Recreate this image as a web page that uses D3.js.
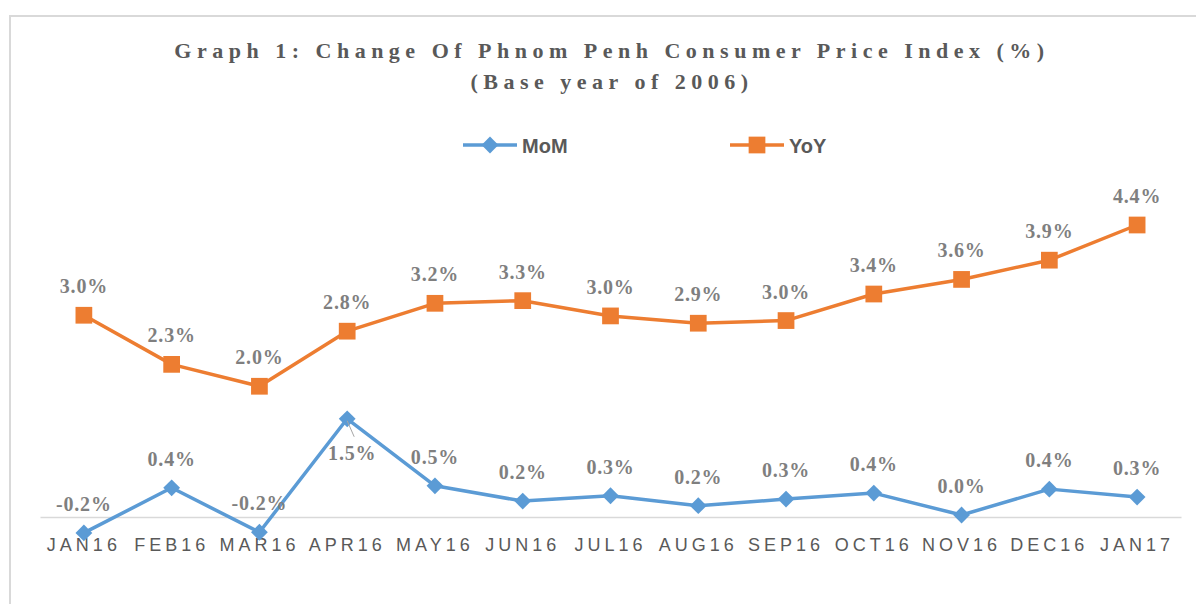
<!DOCTYPE html>
<html lang="en"><head>
<meta charset="utf-8">
<title>Change Of Phnom Penh Consumer Price Index</title>
<script src="https://cdn.jsdelivr.net/npm/d3@7"></script>
<style>
  body { margin: 0; background: #fff; }
  .axis text { font-family: "Liberation Sans", Arial, sans-serif; font-size: 18px; fill: #595959; letter-spacing: 4px; }
  .lbl { font-family: "Liberation Serif", "Times New Roman", serif; font-weight: bold; font-size: 20px; fill: #7f7f7f; letter-spacing: 0.8px; }
</style>
</head>
<body>
<script>
// data
var months = ["JAN16","FEB16","MAR16","APR16","MAY16","JUN16","JUL16","AUG16","SEP16","OCT16","NOV16","DEC16","JAN17"];
var mom = [-0.24, 0.44, -0.23, 1.48, 0.47, 0.24, 0.32, 0.17, 0.27, 0.36, 0.03, 0.42, 0.30];
var yoy = [3.04, 2.30, 1.97, 2.80, 3.22, 3.26, 3.03, 2.92, 2.96, 3.36, 3.58, 3.87, 4.40];
var seriesNames = ["MoM", "YoY"];
var colors = ["#5b9bd5", "#ed7d31"];

var width = 1196, height = 604;
var svg = d3.select("body").append("svg").attr("width", width).attr("height", height);

// chart frame (only top + left edges visible in the crop)
svg.append("path").attr("d", "M10,604V16H1196").attr("fill", "none").attr("stroke", "#d9d9d9").attr("stroke-width", 2);

var x = d3.scaleBand().domain(months).range([40, 1181]);
var y = d3.scaleLinear().domain([0, 4.4]).range([517, 225]);
var cx = function(m) { return x(m) + x.bandwidth() / 2; };

// title
var title = svg.append("text").attr("text-anchor", "middle")
  .attr("font-family", "'Liberation Serif', 'Times New Roman', serif").attr("font-weight", "bold")
  .attr("font-size", "22px").attr("fill", "#595959").style("letter-spacing", "5.5px");
title.append("tspan").attr("x", 612).attr("y", 58).text("Graph 1: Change Of Phnom Penh Consumer Price Index (%)");
title.append("tspan").attr("x", 612).attr("y", 89).text("(Base year of 2006)");

// x axis on zero line
var gX = svg.append("g").attr("class", "axis").attr("transform", "translate(0," + y(0) + ")")
  .call(d3.axisBottom(x).tickSize(0).tickSizeOuter(0).tickPadding(21));
gX.select(".domain").attr("stroke", "#d9d9d9").attr("stroke-width", 1.5);

var diamond = d3.symbol().type(d3.symbolDiamond2).size(180);
var square = d3.symbol().type(d3.symbolSquare).size(280);
var symbols = [diamond, square];
var line = d3.line().x(function(d, i) { return cx(months[i]); }).y(function(d) { return y(d); });

[mom, yoy].forEach(function(vals, s) {
  svg.append("path").datum(vals).attr("d", line).attr("fill", "none")
    .attr("stroke", colors[s]).attr("stroke-width", 3.5).attr("stroke-linejoin", "round");
  svg.append("g").selectAll("path").data(vals).enter().append("path")
    .attr("d", symbols[s])
    .attr("transform", function(d, i) { return "translate(" + cx(months[i]) + "," + y(d) + ")"; })
    .attr("fill", colors[s]);
});

// data labels
function fmt(v) { return v.toFixed(1) + "%"; }
svg.append("g").selectAll("text").data(yoy).enter().append("text").attr("class", "lbl")
  .attr("text-anchor", "middle")
  .attr("x", function(d, i) { return cx(months[i]); })
  .attr("y", function(d) { return y(d) - 22; })
  .text(fmt);

svg.append("g").selectAll("text").data(mom).enter().append("text").attr("class", "lbl")
  .attr("text-anchor", "middle")
  .attr("x", function(d, i) { return cx(months[i]) + (i === 3 ? 5 : 0); })
  .attr("y", function(d, i) { return i === 3 ? y(d) + 41 : y(d) - 22; })
  .text(fmt);

// leader line for the APR16 label
svg.append("line").attr("x1", cx("APR16")).attr("y1", y(mom[3]) + 2)
  .attr("x2", cx("APR16") + 7).attr("y2", y(mom[3]) + 18)
  .attr("stroke", "#a6a6a6").attr("stroke-width", 1);

// legend
var legX = [463, 730];
var leg = svg.append("g").selectAll("g").data(seriesNames).enter().append("g")
  .attr("transform", function(d, i) { return "translate(" + legX[i] + ",145)"; });
leg.append("line").attr("x1", 0).attr("x2", 54).attr("stroke", function(d, i) { return colors[i]; }).attr("stroke-width", 3.5);
leg.append("path").attr("d", function(d, i) { return symbols[i](); })
  .attr("transform", "translate(27,0)").attr("fill", function(d, i) { return colors[i]; });
leg.append("text").attr("x", 59).attr("y", 7.5)
  .attr("font-family", "'Liberation Sans', Arial, sans-serif").attr("font-weight", "bold")
  .attr("font-size", "20px").attr("fill", "#595959").text(function(d) { return d; });
</script>
</body>
</html>
